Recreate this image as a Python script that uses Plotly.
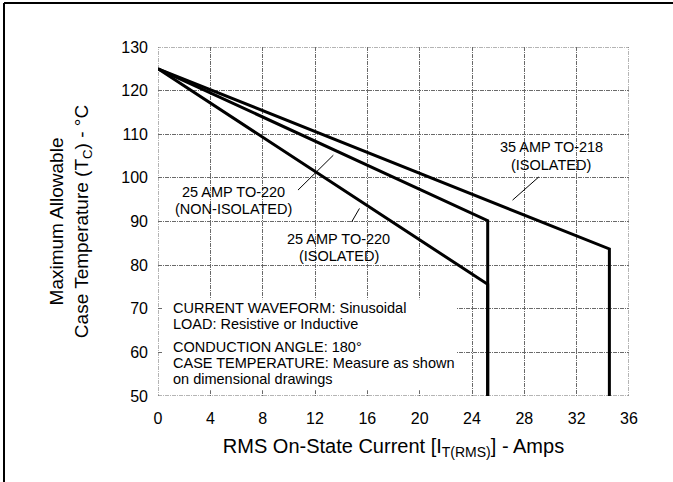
import plotly.graph_objects as go

# Derating curves: RMS on-state current (A) vs. max allowable case temperature (°C)
current_35a_to218 = [0, 34.5, 34.5]
temp_35a_to218 = [125, 83.7, 50]

current_25a_nonisolated = [0, 25.2, 25.2]
temp_25a_nonisolated = [125, 90.2, 50]

current_25a_isolated = [0, 25.2, 25.2]
temp_25a_isolated = [125, 75.6, 50]

x_ticks = [0, 4, 8, 12, 16, 20, 24, 28, 32, 36]
y_ticks = [50, 60, 70, 80, 90, 100, 110, 120, 130]

# curve labels, one entry per text line: (text, x, y)
curve_labels = [
    ("35 AMP TO-218", 30.1, 107.1),
    ("(ISOLATED)", 30.0, 102.9),
    ("25 AMP TO-220", 5.75, 96.8),
    ("(NON-ISOLATED)", 5.75, 92.8),
    ("25 AMP TO-220", 13.8, 86.1),
    ("(ISOLATED)", 13.8, 82.1),
]
# leader lines from each label to its curve: (x0, y0, x1, y1)
leaders = [
    (27.1, 94.9, 29.1, 100.2),
    (10.7, 97.2, 13.4, 105.2),
    (14.8, 89.9, 15.4, 93.0),
]

note_lines = [
    ("CURRENT WAVEFORM: Sinusoidal", 70.1),
    ("LOAD: Resistive or Inductive", 66.5),
    ("CONDUCTION ANGLE: 180°", 61.3),
    ("CASE TEMPERATURE: Measure as shown", 57.6),
    ("on dimensional drawings", 53.9),
]

W, H = 673, 482
ML, MR, MT, MB = 158, 44, 47, 86
FONT = "Liberation Sans, Arial, sans-serif"
GRID_COLOR = "#6a6a6a"
GRID_DASH = "4px,1px,1px,1px"

fig = go.Figure()
for xs, ys in [(current_35a_to218, temp_35a_to218),
               (current_25a_nonisolated, temp_25a_nonisolated),
               (current_25a_isolated, temp_25a_isolated)]:
    fig.add_trace(go.Scatter(x=xs, y=ys, mode="lines",
                             line=dict(color="black", width=3),
                             showlegend=False, hoverinfo="skip"))

shapes = []
# dashed outline of the plotting area
shapes.append(dict(type="rect", xref="x", yref="y", x0=0, x1=36, y0=50, y1=130,
                   line=dict(color=GRID_COLOR, width=1, dash=GRID_DASH), layer="between"))
# blank panel behind the test-condition notes
shapes.append(dict(type="rect", xref="x", yref="y", x0=0.35, x1=22.8, y0=51.3, y1=72.2,
                   fillcolor="white", line=dict(width=0), layer="between"))
for x0, y0, x1, y1 in leaders:
    shapes.append(dict(type="line", xref="x", yref="y", x0=x0, y0=y0, x1=x1, y1=y1,
                       line=dict(color="black", width=1)))
# page frame: top and left rules
pw, ph = W - ML - MR, H - MT - MB
shapes.append(dict(type="line", xref="paper", yref="paper",
                   x0=(4 - ML) / pw, x1=(W - ML) / pw,
                   y0=(H - MB - 3) / ph, y1=(H - MB - 3) / ph,
                   line=dict(color="black", width=2)))
shapes.append(dict(type="line", xref="paper", yref="paper",
                   x0=(4 - ML) / pw, x1=(4 - ML) / pw,
                   y0=(H - MB - 3) / ph, y1=(-MB) / ph,
                   line=dict(color="black", width=2)))

annotations = []
for text, x, y in curve_labels:
    annotations.append(dict(x=x, y=y, xref="x", yref="y", text=text, showarrow=False,
                            font=dict(family=FONT, size=14.5, color="black")))
for text, y in note_lines:
    annotations.append(dict(x=1.0, y=y, xref="x", yref="y", text=text, showarrow=False,
                            xanchor="left", font=dict(family=FONT, size=14.5, color="black")))

grid = dict(showgrid=True, gridcolor=GRID_COLOR, gridwidth=1, griddash=GRID_DASH,
            zeroline=False, showline=False, ticks="",
            tickfont=dict(family=FONT, size=16, color="black"))

fig.update_layout(
    width=W, height=H,
    margin=dict(l=ML, r=MR, t=MT, b=MB),
    paper_bgcolor="white", plot_bgcolor="white",
    shapes=shapes, annotations=annotations,
    xaxis=dict(range=[0, 36], tickvals=x_ticks, ticklabelstandoff=11,
               title=dict(text="RMS On-State Current [I<sub>T(RMS)</sub>] - Amps",
                          font=dict(family=FONT, size=20, color="black"), standoff=12),
               **grid),
    yaxis=dict(range=[50, 130], tickvals=y_ticks, ticklabelstandoff=9,
               title=dict(text="Maximum Allowable<br>Case Temperature (T<sub>C</sub>) - °C",
                          font=dict(family=FONT, size=19, color="black"), standoff=27),
               **grid),
)

fig.write_html("out.html")
